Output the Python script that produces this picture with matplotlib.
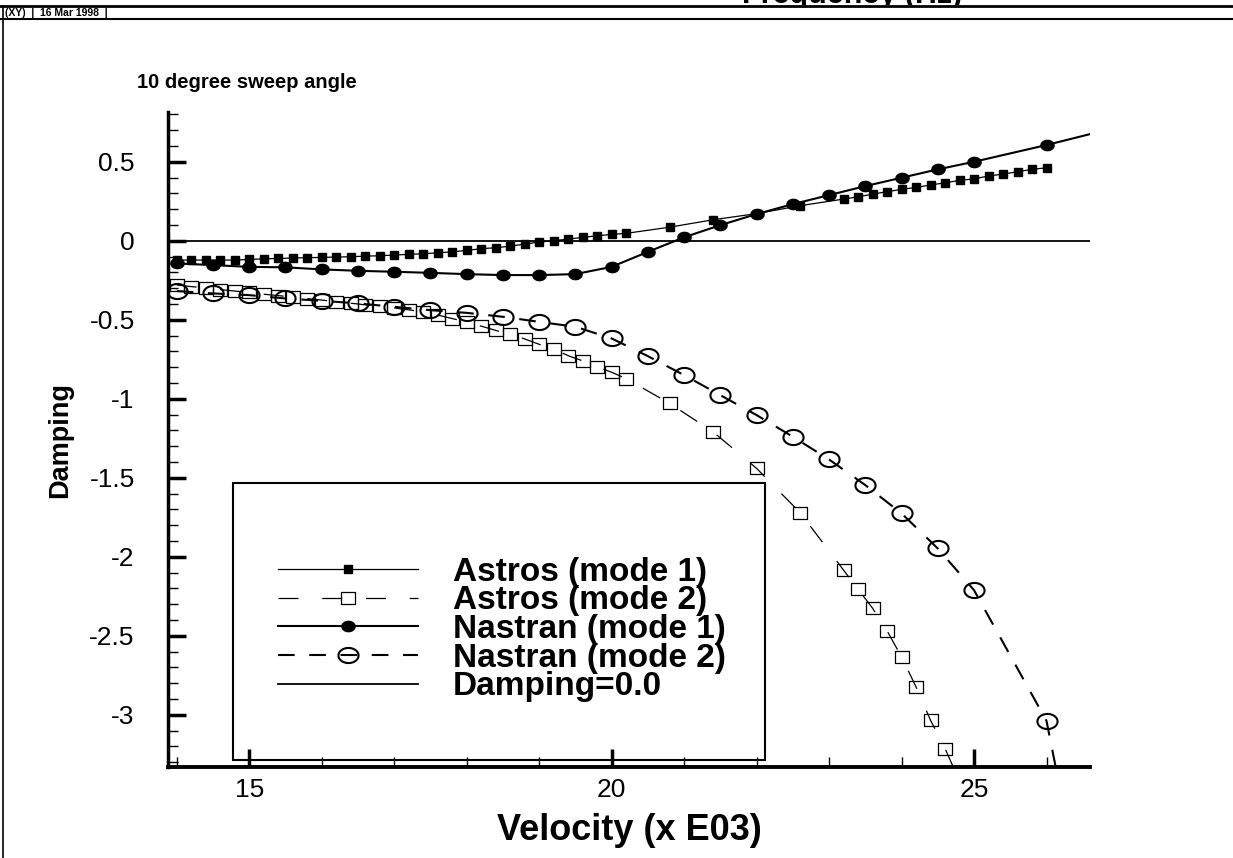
import numpy as np
import matplotlib
matplotlib.use("Agg")
import matplotlib.pyplot as plt
from matplotlib.path import Path
from matplotlib.lines import Line2D
from matplotlib.patches import Rectangle
from matplotlib.ticker import MultipleLocator, FuncFormatter
from matplotlib.transforms import Bbox, TransformedBbox

plt.rcParams['font.family'] = ['Liberation Sans', 'DejaVu Sans']
plt.rcParams['axes.unicode_minus'] = False

# Flutter damping vs velocity, 10 degree sweep
astros1_x = [14.0, 14.2, 14.4, 14.6, 14.8, 15.0, 15.2, 15.4, 15.6, 15.8,
             16.0, 16.2, 16.4, 16.6, 16.8, 17.0, 17.2, 17.4, 17.6, 17.8,
             18.0, 18.2, 18.4, 18.6, 18.8, 19.0, 19.2, 19.4, 19.6, 19.8,
             20.0, 20.2, 20.8, 21.4, 22.0, 22.6, 23.2, 23.4, 23.6, 23.8,
             24.0, 24.2, 24.4, 24.6, 24.8, 25.0, 25.2, 25.4, 25.6, 25.8, 26.0]
astros1_y = [-0.122, -0.122, -0.122, -0.122, -0.122, -0.118, -0.114, -0.112, -0.109, -0.107,
             -0.105, -0.103, -0.101, -0.097, -0.095, -0.090, -0.086, -0.082, -0.076, -0.070,
             -0.061, -0.050, -0.044, -0.034, -0.021, -0.008, 0.000, 0.011, 0.021, 0.032,
             0.040, 0.047, 0.086, 0.133, 0.172, 0.222, 0.264, 0.278, 0.295, 0.311,
             0.325, 0.338, 0.353, 0.367, 0.382, 0.392, 0.410, 0.422, 0.437, 0.452, 0.462]

astros2_x = [14.0, 14.2, 14.4, 14.6, 14.8, 15.0, 15.2, 15.4, 15.6, 15.8,
             16.0, 16.2, 16.4, 16.6, 16.8, 17.0, 17.2, 17.4, 17.6, 17.8,
             18.0, 18.2, 18.4, 18.6, 18.8, 19.0, 19.2, 19.4, 19.6, 19.8,
             20.0, 20.2, 20.8, 21.4, 22.0, 22.6, 23.2, 23.4, 23.6, 23.8,
             24.0, 24.2, 24.4, 24.6, 24.8]
astros2_y = [-0.280, -0.290, -0.298, -0.309, -0.318, -0.327, -0.338, -0.347, -0.356, -0.366,
             -0.375, -0.385, -0.395, -0.405, -0.414, -0.425, -0.437, -0.450, -0.470, -0.492,
             -0.514, -0.540, -0.567, -0.592, -0.621, -0.655, -0.684, -0.727, -0.760, -0.797,
             -0.832, -0.872, -1.029, -1.209, -1.440, -1.720, -2.084, -2.205, -2.325, -2.468,
             -2.633, -2.823, -3.034, -3.213, -3.420]

nastran1_x = [14.0, 14.5, 15.0, 15.5, 16.0, 16.5, 17.0, 17.5, 18.0, 18.5,
              19.0, 19.5, 20.0, 20.5, 21.0, 21.5, 22.0, 22.5, 23.0, 23.5,
              24.0, 24.5, 25.0, 26.0, 26.6]
nastran1_y = [-0.143, -0.154, -0.165, -0.168, -0.181, -0.190, -0.196, -0.203, -0.211, -0.217,
              -0.217, -0.211, -0.165, -0.070, 0.022, 0.099, 0.169, 0.232, 0.289, 0.346,
              0.399, 0.452, 0.500, 0.606, 0.675]

nastran2_x = [14.0, 14.5, 15.0, 15.5, 16.0, 16.5, 17.0, 17.5, 18.0, 18.5,
              19.0, 19.5, 20.0, 20.5, 21.0, 21.5, 22.0, 22.5, 23.0, 23.5,
              24.0, 24.5, 25.0, 26.0, 26.2]
nastran2_y = [-0.318, -0.333, -0.344, -0.365, -0.380, -0.396, -0.418, -0.439, -0.456, -0.481,
              -0.513, -0.544, -0.618, -0.730, -0.850, -0.977, -1.103, -1.240, -1.384, -1.546,
              -1.725, -1.947, -2.211, -3.038, -3.500]

zero_x = [13.88, 26.6]
zero_y = [0.0, 0.0]

labels = ["Astros (mode 1)", "Astros (mode 2)", "Nastran (mode 1)",
          "Nastran (mode 2)", "Damping=0.0"]


def ellipse_marker(aspect):
    t = np.linspace(0, 2 * np.pi, 48)
    return Path(np.column_stack([np.cos(t), aspect * np.sin(t)]), closed=True)


def box_marker(aspect):
    v = [(-1, -aspect), (1, -aspect), (1, aspect), (-1, aspect), (-1, -aspect)]
    return Path(v, closed=True)


fig = plt.figure(figsize=(12.33, 8.58), dpi=100)
ax = fig.add_axes([168 / 1233, 1 - 767 / 858, (1090 - 168) / 1233, (767 - 112) / 858])

ax.plot(zero_x, zero_y, color='k', lw=1.3, label=labels[4], zorder=2)
ax.plot(astros1_x, astros1_y, color='k', lw=0.9, marker='s', ms=5.5,
        mfc='k', mec='k', label=labels[0], zorder=3)
ax.plot(astros2_x, astros2_y, color='k', lw=0.9, dashes=(16, 19),
        marker=box_marker(0.8), ms=10.5, mfc='none', mec='k', mew=0.9,
        label=labels[1], zorder=3)
ax.plot(nastran1_x, nastran1_y, color='k', lw=1.5, marker=ellipse_marker(0.78), ms=9.5,
        mfc='k', mec='k', markevery=list(range(len(nastran1_x) - 1)),
        label=labels[2], zorder=4)
ax.plot(nastran2_x, nastran2_y, color='k', lw=1.5, dashes=(8, 7),
        marker=ellipse_marker(0.75), ms=14.5, mfc='none', mec='k', mew=1.5,
        label=labels[3], zorder=4)

ax.set_xlim(13.88, 26.6)
ax.set_ylim(-3.33, 0.815)

for s in ['top', 'right']:
    ax.spines[s].set_visible(False)
ax.spines['left'].set_linewidth(2.5)
ax.spines['bottom'].set_linewidth(2.8)

ax.xaxis.set_major_locator(MultipleLocator(5))
ax.xaxis.set_minor_locator(MultipleLocator(1))
ax.yaxis.set_major_locator(MultipleLocator(0.5))
ax.yaxis.set_minor_locator(MultipleLocator(0.1))
ax.yaxis.set_major_formatter(FuncFormatter(lambda v, p: f"{v:g}"))

ax.tick_params(which='major', direction='in', length=13, width=2.5, labelsize=19)
ax.tick_params(which='minor', direction='in', length=7.5, width=1.0)
ax.tick_params(axis='y', which='major', pad=24)
ax.tick_params(axis='x', which='major', pad=8)

ax.set_xlabel("Velocity (x E03)", fontsize=26, fontweight='bold', labelpad=8)
ax.set_ylabel("Damping", fontsize=19.5, fontweight='bold', labelpad=12)

# legend: frame drawn separately, it is much larger than the entries
handles, labs = ax.get_legend_handles_labels()
order = [labs.index(l) for l in labels]
leg = ax.legend([handles[i] for i in order], [labs[i] for i in order],
                loc='center', bbox_to_anchor=(0.362, 0.21), frameon=False,
                prop={'size': 24, 'weight': 'bold'}, handlelength=4.2,
                handletextpad=1.05, labelspacing=-0.07, borderpad=0)
ax.add_patch(Rectangle((65 / 922, 7 / 655), (765 - 233) / 922, (760 - 483) / 655,
                       transform=ax.transAxes, fill=False, lw=1.5, ec='k',
                       zorder=5, clip_on=False))

fig.text(137 / 1233, 1 - 83 / 858, "10 degree sweep angle", fontsize=14.5,
         fontweight='bold', va='center', ha='left')

# page header remnants
fig.add_artist(Line2D([0, 1], [1 - 6 / 858] * 2, lw=2, color='k', transform=fig.transFigure))
fig.add_artist(Line2D([0, 1], [1 - 19 / 858] * 2, lw=1.5, color='k', transform=fig.transFigure))
fig.add_artist(Line2D([3 / 1233] * 2, [0, 1 - 6 / 858], lw=1.2, color='k', transform=fig.transFigure))
fig.text(5 / 1233, 1 - 12.5 / 858, "(XY)  |  16 Mar 1998  |", fontsize=7.5,
         fontweight='bold', va='center', ha='left')
top = fig.text(852 / 1233, 1 - 3 / 858, "Frequency (Hz)", fontsize=22,
               fontweight='bold', va='baseline', ha='center')
top.set_clip_box(TransformedBbox(Bbox([[0, 1 - 5 / 858], [1, 1]]), fig.transFigure))
top.set_clip_on(True)

fig.savefig("out.png", dpi=100)
